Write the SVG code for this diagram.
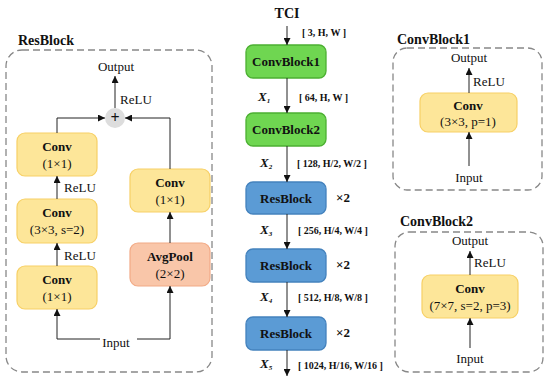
<svg xmlns="http://www.w3.org/2000/svg" width="550" height="379" viewBox="0 0 550 379">
<defs>
<marker id="ah" viewBox="0 0 10 10" refX="10" refY="5" markerWidth="7" markerHeight="7" markerUnits="userSpaceOnUse" orient="auto"><path d="M0,0 L10,5 L0,10 z" fill="#111"/></marker>
</defs>
<style>
text{font-family:"Liberation Serif","Times New Roman",serif;fill:#111}
.t{font-weight:bold;font-size:14px}
.b{font-weight:bold;font-size:13px;text-anchor:middle}
.n{font-size:13px;text-anchor:middle}
.l{font-size:13px}
.s{font-weight:bold;font-size:10px}
.x{font-style:italic;font-size:13px;font-weight:bold}
.panel{fill:none;stroke:#888;stroke-width:1.3;stroke-dasharray:7,4}
.y{fill:#fde699;stroke:#f7d066;stroke-width:1.2}
.o{fill:#f9c6a9;stroke:#f2aa86;stroke-width:1.2}
.g{fill:#6fd651;stroke:#4cb032;stroke-width:1.3}
.bl{fill:#5b9bd5;stroke:#4482bd;stroke-width:1.3}
.c{fill:none;stroke:#222;stroke-width:1;marker-end:url(#ah)}
.c2{fill:none;stroke:#222;stroke-width:1}
</style>
<rect width="550" height="379" fill="#fff"/>

<g id="resblock-panel">
<rect class="panel" x="6" y="50" width="206" height="322" rx="16"/>
<text class="t" x="18" y="45">ResBlock</text>
<text class="n" x="116" y="71">Output</text>
<text class="l" x="120" y="104">ReLU</text>
</g>
<g id="rb-plus">
<circle cx="115" cy="118" r="10" fill="#ddd"/>
<text x="115" y="123" text-anchor="middle" font-size="16" font-weight="bold">+</text>
</g>
<g id="rb-conv1">
<rect class="y" x="17" y="133" width="80" height="43" rx="8"/>
<text class="b" x="57" y="151">Conv</text>
<text class="n" x="57" y="168">(1×1)</text>
</g>
<g id="rb-conv2">
<rect class="y" x="17" y="199" width="80" height="44" rx="8"/>
<text class="b" x="57" y="217">Conv</text>
<text class="n" x="57" y="234">(3×3, s=2)</text>
</g>
<g id="rb-conv3">
<rect class="y" x="17" y="266" width="80" height="43" rx="8"/>
<text class="b" x="57" y="284">Conv</text>
<text class="n" x="57" y="301">(1×1)</text>
</g>
<g id="rb-conv4">
<rect class="y" x="130" y="169" width="80" height="43" rx="8"/>
<text class="b" x="170" y="187">Conv</text>
<text class="n" x="170" y="204">(1×1)</text>
</g>
<g id="rb-avgpool">
<rect class="o" x="130" y="243" width="80" height="43" rx="8"/>
<text class="b" x="170" y="261">AvgPool</text>
<text class="n" x="170" y="278">(2×2)</text>
</g>
<g id="rb-labels">
<text class="l" x="64" y="192">ReLU</text>
<text class="l" x="64" y="260">ReLU</text>
<text class="n" x="116" y="347">Input</text>
</g>

<g id="main-tci"><text x="287" y="18" text-anchor="middle" font-weight="bold" font-size="14">TCI</text></g>
<g id="cb1"><rect class="g" x="246" y="45" width="80" height="33" rx="7"/><text class="b" x="286" y="66" font-size="14">ConvBlock1</text></g>
<g id="cb2"><rect class="g" x="246" y="113" width="80" height="33" rx="7"/><text class="b" x="286" y="134" font-size="14">ConvBlock2</text></g>
<g id="rbA"><rect class="bl" x="246" y="182" width="80" height="32" rx="7"/><text class="b" x="286" y="203" font-size="14">ResBlock</text></g>
<g id="rbB"><rect class="bl" x="246" y="249" width="80" height="33" rx="7"/><text class="b" x="286" y="270" font-size="14">ResBlock</text></g>
<g id="rbC"><rect class="bl" x="246" y="317" width="80" height="33" rx="7"/><text class="b" x="286" y="338" font-size="14">ResBlock</text></g>
<g id="main-labels">
<text class="s" x="302" y="36">[ 3, H, W ]</text>
<text class="s" x="299" y="101">[ 64, H, W ]</text>
<text class="s" x="297" y="167">[ 128, H/2, W/2 ]</text>
<text class="s" x="298" y="234">[ 256, H/4, W/4 ]</text>
<text class="s" x="298" y="301">[ 512, H/8, W/8 ]</text>
<text class="s" x="298" y="369">[ 1024, H/16, W/16 ]</text>
<text class="x" x="258" y="101">X<tspan font-size="7" dy="2">1</tspan></text>
<text class="x" x="260" y="167">X<tspan font-size="7" dy="2">2</tspan></text>
<text class="x" x="260" y="234">X<tspan font-size="7" dy="2">3</tspan></text>
<text class="x" x="260" y="301">X<tspan font-size="7" dy="2">4</tspan></text>
<text class="x" x="260" y="368">X<tspan font-size="7" dy="2">5</tspan></text>
<text x="336" y="202" font-size="13" font-weight="bold">×2</text>
<text x="336" y="269" font-size="13" font-weight="bold">×2</text>
<text x="336" y="337" font-size="13" font-weight="bold">×2</text>
</g>

<g id="convblock1-panel">
<rect class="panel" x="393" y="48" width="149" height="142" rx="14"/>
<text class="t" x="397" y="44">ConvBlock1</text>
<text class="n" x="469" y="62">Output</text>
<text class="l" x="473" y="86">ReLU</text>
<text class="n" x="469" y="182">Input</text>
</g>
<g id="cb1-conv">
<rect class="y" x="420" y="93" width="97" height="39" rx="8"/>
<text class="b" x="468" y="110">Conv</text>
<text class="n" x="468" y="126">(3×3, p=1)</text>
</g>
<g id="convblock2-panel">
<rect class="panel" x="395" y="232" width="148" height="140" rx="14"/>
<text class="t" x="400" y="226">ConvBlock2</text>
<text class="n" x="470" y="245">Output</text>
<text class="l" x="474" y="267">ReLU</text>
<text class="n" x="470" y="363">Input</text>
</g>
<g id="cb2-conv">
<rect class="y" x="422" y="275" width="96" height="43" rx="8"/>
<text class="b" x="470" y="293">Conv</text>
<text class="n" x="470" y="310">(7×7, s=2, p=3)</text>
</g>

<g id="connectors">
<path class="c" d="M115,108 V76"/>
<path class="c" d="M57,133 V118 H105"/>
<path class="c" d="M170,169 V118 H125"/>
<path class="c" d="M57,199 V176"/>
<path class="c" d="M57,266 V243"/>
<path class="c2" d="M100,339 H57"/>
<path class="c" d="M57,339 V309"/>
<path class="c" d="M137,339 H170 V286"/>
<path class="c" d="M170,243 V212"/>
<path class="c" d="M287,26 V45"/>
<path class="c" d="M287,78 V113"/>
<path class="c" d="M287,146 V182"/>
<path class="c" d="M287,214 V249"/>
<path class="c" d="M287,282 V317"/>
<path class="c" d="M287,350 V376"/>
<path class="c" d="M469,93 V68"/>
<path class="c" d="M469,166 V132"/>
<path class="c" d="M470,275 V251"/>
<path class="c" d="M470,348 V318"/>
</g>
</svg>
